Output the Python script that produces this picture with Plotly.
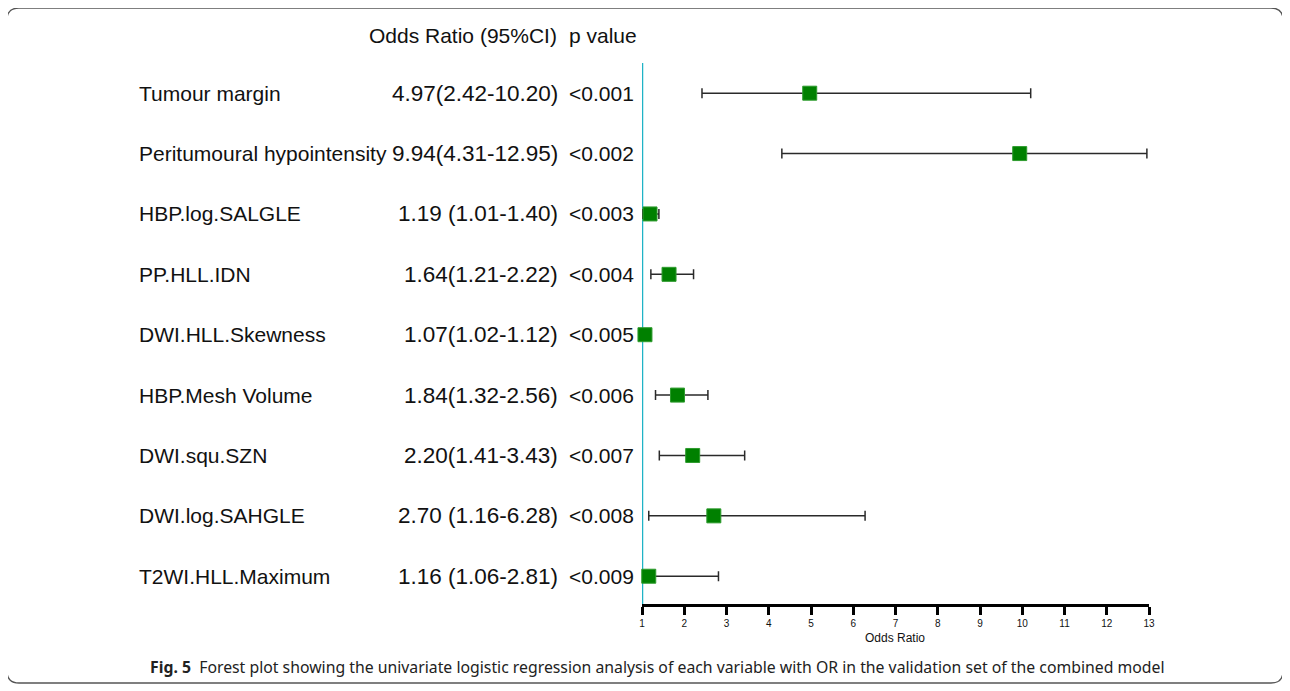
import plotly.graph_objects as go

labels = ["Tumour margin", "Peritumoural hypointensity", "HBP.log.SALGLE", "PP.HLL.IDN",
          "DWI.HLL.Skewness", "HBP.Mesh Volume", "DWI.squ.SZN", "DWI.log.SAHGLE", "T2WI.HLL.Maximum"]
or_vals = [4.97, 9.94, 1.19, 1.64, 1.07, 1.84, 2.20, 2.70, 1.16]
lower = [2.42, 4.31, 1.01, 1.21, 1.02, 1.32, 1.41, 1.16, 1.06]
upper = [10.20, 12.95, 1.40, 2.22, 1.12, 2.56, 3.43, 6.28, 2.81]
or_text = ["4.97(2.42-10.20)", "9.94(4.31-12.95)", "1.19 (1.01-1.40)", "1.64(1.21-2.22)",
           "1.07(1.02-1.12)", "1.84(1.32-2.56)", "2.20(1.41-3.43)", "2.70 (1.16-6.28)",
           "1.16 (1.06-2.81)"]
p_text = ["<0.001", "<0.002", "<0.003", "<0.004", "<0.005", "<0.006", "<0.007", "<0.008", "<0.009"]
x_ticks = list(range(1, 14))

OFF = 8  # page body margin
W, H = 1276, 676
L_PX, R_PX, T_PX, B_PX = 642 - OFF, 1149 - OFF, 63 - OFF, 604 - OFF
rows = list(range(1, len(labels) + 1))


def px_x(px):
    return (px - OFF - L_PX) / (R_PX - L_PX)


def px_y(py):
    return (B_PX - (py - OFF)) / (B_PX - T_PX)


fig = go.Figure()
fig.add_trace(go.Scatter(
    x=or_vals, y=rows, mode="markers",
    marker=dict(symbol="square", size=14, color="#008000", line=dict(color="#2e9b2e", width=1)),
    error_x=dict(type="data", symmetric=False,
                 array=[u - o for u, o in zip(upper, or_vals)],
                 arrayminus=[o - l for o, l in zip(or_vals, lower)],
                 color="#2a2a2a", thickness=1.5, width=5),
    cliponaxis=False, showlegend=False, hoverinfo="skip",
))

font_main = dict(family="Liberation Sans, Arial", size=21, color="#111111")
font_or = dict(family="Liberation Sans, Arial", size=22.5, color="#111111")
ann = []
for r, lab, ot, pt in zip(rows, labels, or_text, p_text):
    ann.append(dict(x=px_x(137), y=r, xref="paper", yref="y", text=lab, showarrow=False,
                    xanchor="left", yanchor="middle", font=font_main))
    ann.append(dict(x=px_x(560), y=r, xref="paper", yref="y", text=ot, showarrow=False,
                    xanchor="right", yanchor="middle", font=font_or))
    ann.append(dict(x=px_x(567), y=r, xref="paper", yref="y", text=pt, showarrow=False,
                    xanchor="left", yanchor="middle", font=font_main))
ann.append(dict(x=px_x(559), y=px_y(35), xref="paper", yref="paper", text="Odds Ratio (95%CI)",
                showarrow=False, xanchor="right", yanchor="middle", font=font_main))
ann.append(dict(x=px_x(567), y=px_y(35), xref="paper", yref="paper", text="p value",
                showarrow=False, xanchor="left", yanchor="middle", font=font_main))
ann.append(dict(x=px_x(895), y=px_y(638), xref="paper", yref="paper", text="Odds Ratio",
                showarrow=False, xanchor="center", yanchor="middle",
                font=dict(family="Liberation Sans, Arial", size=12, color="#111111")))
ann.append(dict(x=px_x(148), y=px_y(667), xref="paper", yref="paper",
                text="<b>Fig. 5</b>  Forest plot showing the univariate logistic regression analysis of each variable with OR in the validation set of the combined model",
                showarrow=False, xanchor="left", yanchor="middle",
                font=dict(family="Noto Sans", size=15.8, color="#222222")))

# rounded border
x0, x1, y0, y1, rad = 7, 1283, 8, 683, 12


def P(px, py):
    return f"{px_x(px):.5f},{px_y(py):.5f}"


path = (f"M {P(x0 + rad, y0)} L {P(x1 - rad, y0)} Q {P(x1, y0)} {P(x1, y0 + rad)} "
        f"L {P(x1, y1 - rad)} Q {P(x1, y1)} {P(x1 - rad, y1)} "
        f"L {P(x0 + rad, y1)} Q {P(x0, y1)} {P(x0, y1 - rad)} "
        f"L {P(x0, y0 + rad)} Q {P(x0, y0)} {P(x0 + rad, y0)} Z")

shapes = [
    dict(type="line", xref="x", yref="paper", x0=1, x1=1, y0=0, y1=1,
         line=dict(color="#1fb3c6", width=2.5), layer="below"),
    dict(type="path", xref="paper", yref="paper", path=path,
         line=dict(color="#555555", width=1.3)),
]

fig.update_layout(
    width=W, height=H, autosize=False,
    margin=dict(l=L_PX, r=W - R_PX, t=T_PX, b=H - B_PX),
    paper_bgcolor="white", plot_bgcolor="white",
    xaxis=dict(range=[1, 13], tickvals=x_ticks, ticktext=[str(t) for t in x_ticks],
               showgrid=False, zeroline=False, showline=True, linecolor="black", linewidth=3,
               ticks="outside", ticklen=8, tickwidth=3, tickcolor="black",
               tickfont=dict(family="Liberation Sans, Arial", size=10, color="#111111")),
    yaxis=dict(range=[len(labels) + 0.46, 0.5], showgrid=False, zeroline=False,
               showline=False, showticklabels=False, ticks=""),
    annotations=ann, shapes=shapes,
)

fig.write_html("out.html")
